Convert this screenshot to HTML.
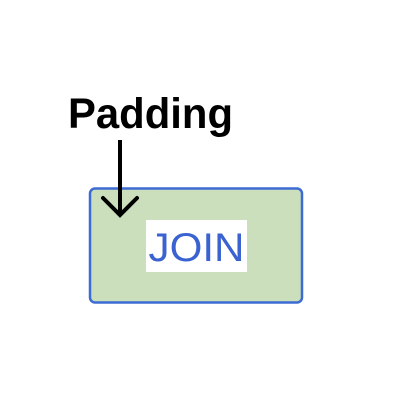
<!DOCTYPE html>
<html><head><style>
body{margin:0;width:400px;height:400px;background:#fff;overflow:hidden}
</style></head><body>
<svg width="400" height="400" xmlns="http://www.w3.org/2000/svg">
<rect x="90" y="188.5" width="212" height="114" rx="5" fill="#cbdfbc" stroke="#3c6bd4" stroke-width="2.5"/>
<rect x="146" y="220" width="101" height="52" fill="#fff"/>
<text x="196.5" y="261" font-family="Liberation Sans, sans-serif" font-size="40" fill="#3a62d0" text-anchor="middle" textLength="96" lengthAdjust="spacingAndGlyphs">JOIN</text>
<text x="68" y="128" font-family="Liberation Sans, sans-serif" font-size="43" font-weight="bold" fill="#000" textLength="165" lengthAdjust="spacingAndGlyphs">Padding</text>
<line x1="120" y1="140" x2="120" y2="216" stroke="#000" stroke-width="4"/>
<polyline points="103,198 120,215 137,198" fill="none" stroke="#000" stroke-width="4" stroke-linecap="round"/>
</svg>
</body></html>
